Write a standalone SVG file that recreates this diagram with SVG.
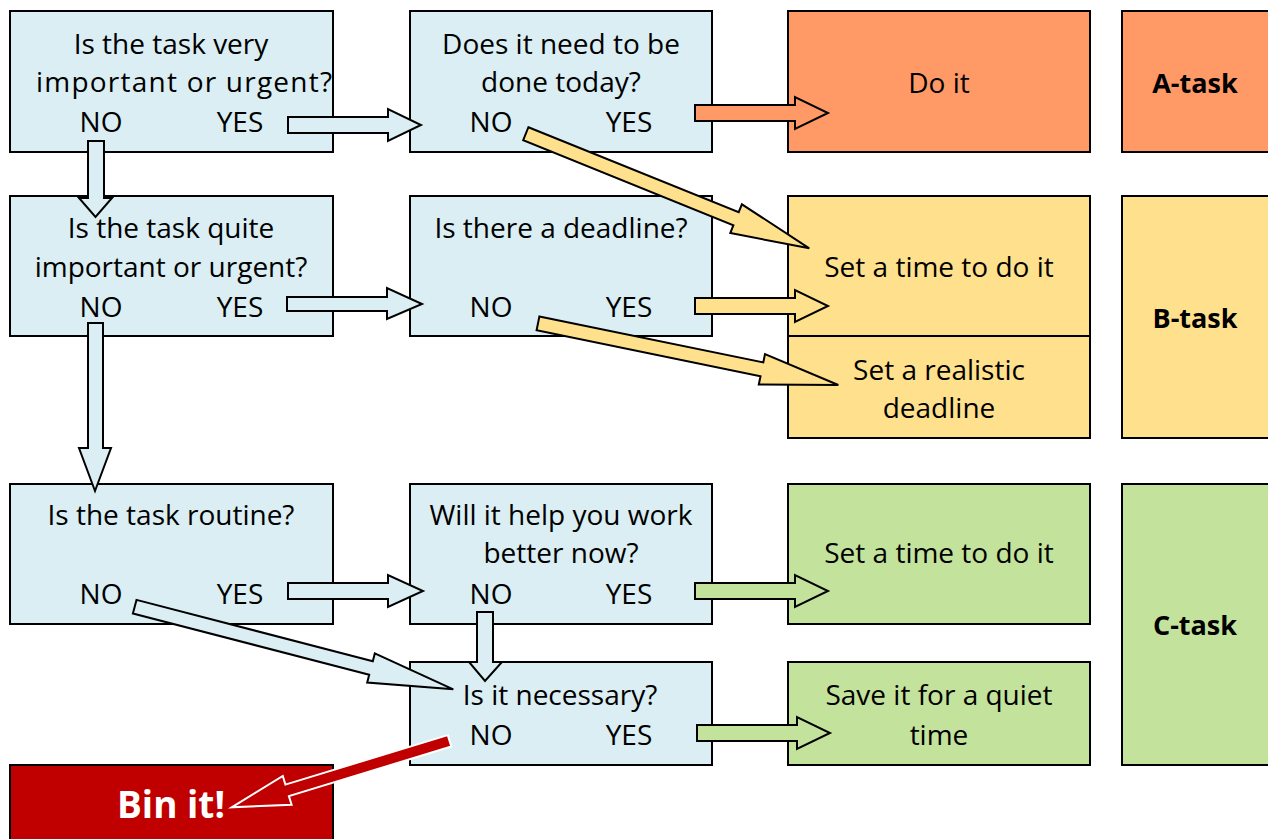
<svg xmlns="http://www.w3.org/2000/svg" width="1268" height="839" viewBox="0 0 1268 839">
<style>
.box{stroke:#000;stroke-width:2}
.q{fill:#DAEEF3}
.o{fill:#FF9966}
.y{fill:#FFE08C}
.g{fill:#C3E29B}
.r{fill:#C00000}
text{font-family:"Open Sans","Liberation Sans",sans-serif;font-size:28px;fill:#000;text-anchor:middle}
.b{font-weight:bold;font-size:27px}
.bin{font-weight:bold;font-size:37px;fill:#fff}
.arr{stroke:#000;stroke-width:2;stroke-linejoin:miter}
</style>
<rect width="1268" height="839" fill="#fff"/>
<g id="q1"><rect class="box q" x="10" y="11" width="323" height="141"/>
<text x="171" y="54">Is the task very</text><text x="184" y="92" textLength="296" lengthAdjust="spacing">important or urgent?</text>
<text x="101" y="132">NO</text><text x="240" y="132">YES</text></g>
<g id="q2"><rect class="box q" x="410" y="11" width="302" height="141"/>
<text x="561" y="54">Does it need to be</text><text x="561" y="92">done today?</text>
<text x="491" y="132">NO</text><text x="629" y="132">YES</text></g>
<g id="q3"><rect class="box q" x="10" y="196" width="323" height="140"/>
<text x="171" y="238">Is the task quite</text><text x="171" y="277">important or urgent?</text>
<text x="101" y="317">NO</text><text x="240" y="317">YES</text></g>
<g id="q4"><rect class="box q" x="410" y="196" width="302" height="140"/>
<text x="561" y="238">Is there a deadline?</text>
<text x="491" y="317">NO</text><text x="629" y="317">YES</text></g>
<g id="q5"><rect class="box q" x="10" y="484" width="323" height="140"/>
<text x="171" y="525">Is the task routine?</text>
<text x="101" y="604">NO</text><text x="240" y="604">YES</text></g>
<g id="q6"><rect class="box q" x="410" y="484" width="302" height="140"/>
<text x="561" y="525">Will it help you work</text><text x="561" y="563">better now?</text>
<text x="491" y="604">NO</text><text x="629" y="604">YES</text></g>
<g id="q7"><rect class="box q" x="410" y="662" width="302" height="103"/>
<text x="560" y="705">Is it necessary?</text>
<text x="491" y="745">NO</text><text x="629" y="745">YES</text></g>
<g id="doit"><rect class="box o" x="788" y="11" width="302" height="141"/><text x="939" y="93">Do it</text></g>
<g id="settime-b"><rect class="box y" x="788" y="196" width="302" height="140"/><text x="939" y="277">Set a time to do it</text></g>
<g id="deadline"><rect class="box y" x="788" y="336" width="302" height="102"/><text x="939" y="380">Set a realistic</text><text x="939" y="418">deadline</text></g>
<g id="settime-c"><rect class="box g" x="788" y="484" width="302" height="140"/><text x="939" y="563">Set a time to do it</text></g>
<g id="quiet"><rect class="box g" x="788" y="662" width="302" height="103"/><text x="939" y="705">Save it for a quiet</text><text x="939" y="745">time</text></g>
<g id="atask"><rect class="box o" x="1122" y="11" width="160" height="141"/><text class="b" x="1195" y="93">A-task</text></g>
<g id="btask"><rect class="box y" x="1122" y="196" width="160" height="242"/><text class="b" x="1195" y="328">B-task</text></g>
<g id="ctask"><rect class="box g" x="1122" y="484" width="160" height="281"/><text class="b" x="1195" y="635">C-task</text></g>
<g id="binit"><rect class="box r" x="10" y="765" width="323" height="80"/><text class="bin" x="171" y="818">Bin it!</text></g>
<g id="connectors">
<polygon class="arr q" points="288,117 388,117 388,109 421,125 388,141 388,133 288,133"/>
<polygon class="arr o" points="695,105 795,105 795,97 828,113 795,129 795,121 695,121"/>
<polygon class="arr q" points="287,297 387,297 387,288 422,304 387,319 387,311 287,311"/>
<polygon class="arr y" points="695,298 795,298 795,290 828,306 795,322 795,314 695,314"/>
<polygon class="arr q" points="288,583 388,583 388,575 423,591 388,607 388,599 288,599"/>
<polygon class="arr g" points="695,583 795,583 795,575 828,591 795,607 795,599 695,599"/>
<polygon class="arr g" points="697,725 797,725 797,717 830,733 797,749 797,741 697,741"/>
<polygon class="arr q" points="88,141 104,141 104,198 112,198 95.5,217 79,198 88,198"/>
<polygon class="arr q" points="88,323 103,323 103,448 111,448 95,491 79,448 88,448"/>
<polygon class="arr q" points="477,612 493,612 493,662 502,662 485,681 469,662 477,662"/>
<polygon class="arr y" points="528.4,127.2 738.7,212.2 741.9,204.3 809.3,248.3 730.3,233.1 733.4,225.2 523.2,140.2"/>
<polygon class="arr y" points="539.4,316.4 763.3,362.4 765,354.1 838.3,385 758.8,384.5 760.5,376.2 536.6,330.2"/>
<polygon class="arr q" points="136.5,599.9 372.8,661.2 374.8,653.4 453.3,689.3 367.2,682.5 369.2,674.7 132.9,613.5"/>
<polygon points="447.8,735.1 285.4,784.6 282.8,776 231.7,807.3 291.6,804.7 288.9,796.1 451.3,746.5" fill="#C00000" stroke="#fff" stroke-width="2"/>
</g>
</svg>
